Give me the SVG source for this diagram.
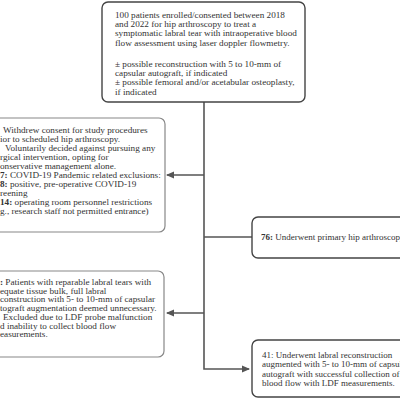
<svg xmlns="http://www.w3.org/2000/svg" width="400" height="400" viewBox="0 0 400 400">
<style>
text{font-family:"Liberation Serif","Times New Roman",serif;font-size:9.2px;fill:#333}
.r{font-size:9px}
.b{font-weight:bold}
.box{fill:#fff;stroke:#444;stroke-width:1.4}
.lbox{fill:#fff;stroke:#888;stroke-width:1.2}
.c{fill:none;stroke:#555;stroke-width:1.6}
</style>
<defs>
<marker id="ah" markerWidth="8" markerHeight="8" refX="7" refY="4" orient="auto" markerUnits="userSpaceOnUse">
<path d="M0,0.5 L8,4 L0,7.5 Z" fill="#555"/>
</marker>
</defs>
<rect width="400" height="400" fill="#fff"/>
<g id="connectors">
<path class="c" d="M204,102 V369 H249" marker-end="url(#ah)"/>
<path class="c" d="M204,175 H167" marker-end="url(#ah)"/>
<path class="c" d="M204,237 H252"/>
<path class="c" d="M204,313 H167" marker-end="url(#ah)"/>
</g>
<g id="n-top">
<rect class="box" x="102" y="2" width="203" height="100" rx="6"/>
<text x="115" y="18">100 patients enrolled/consented between 2018</text>
<text x="115" y="27.2">and 2022 for hip arthroscopy to treat a</text>
<text x="115" y="36.4">symptomatic labral tear with intraoperative blood</text>
<text x="115" y="45.6">flow assessment using laser doppler flowmetry.</text>
<text x="115" y="67">± possible reconstruction with 5 to 10-mm of</text>
<text x="115" y="76.2">capsular autograft, if indicated</text>
<text x="115" y="85.4">± possible femoral and/or acetabular osteoplasty,</text>
<text x="115" y="94.6">if indicated</text>
</g>
<g id="n-excl1">
<rect class="lbox" x="-10" y="118" width="175" height="114" rx="6"/>
<text x="3" y="133">Withdrew consent for study procedures</text>
<text x="0" y="142">ior to scheduled hip arthroscopy.</text>
<text x="5" y="151">Voluntarily decided against pursuing any</text>
<text x="0" y="160">rgical intervention, opting for</text>
<text x="0" y="169">onservative management alone.</text>
<text x="0" y="178"><tspan class="b">7:</tspan> COVID-19 Pandemic related exclusions:</text>
<text x="0" y="187"><tspan class="b">8:</tspan> positive, pre-operative COVID-19</text>
<text x="0" y="196">reening</text>
<text x="0" y="205"><tspan class="b">14:</tspan> operating room personnel restrictions</text>
<text x="0" y="214">g., research staff not permitted entrance)</text>
</g>
<g id="n-primary">
<rect class="box" x="252" y="217" width="160" height="41" rx="6"/>
<text class="r" x="261" y="240"><tspan class="b">76:</tspan> Underwent primary hip arthroscopy</text>
</g>
<g id="n-excl2">
<rect class="lbox" x="-10" y="271" width="174" height="86" rx="6"/>
<text x="0" y="285"><tspan class="b">:</tspan> Patients with reparable labral tears with</text>
<text x="0" y="293.7">equate tissue bulk, full labral</text>
<text x="0" y="302.4">construction with 5- to 10-mm of capsular</text>
<text x="0" y="311.1">tograft augmentation deemed unnecessary.</text>
<text x="3" y="319.8">Excluded due to LDF probe malfunction</text>
<text x="0" y="328.5">d inability to collect blood flow</text>
<text x="0" y="337.2">easurements.</text>
</g>
<g id="n-final">
<rect class="box" x="252" y="340" width="160" height="57" rx="6"/>
<text class="r" x="262" y="358">41: Underwent labral reconstruction</text>
<text class="r" x="262" y="367.3">augmented with 5- to 10-mm of capsular</text>
<text class="r" x="262" y="376.6">autograft with successful collection of</text>
<text class="r" x="262" y="385.9">blood flow with LDF measurements.</text>
</g>
</svg>
